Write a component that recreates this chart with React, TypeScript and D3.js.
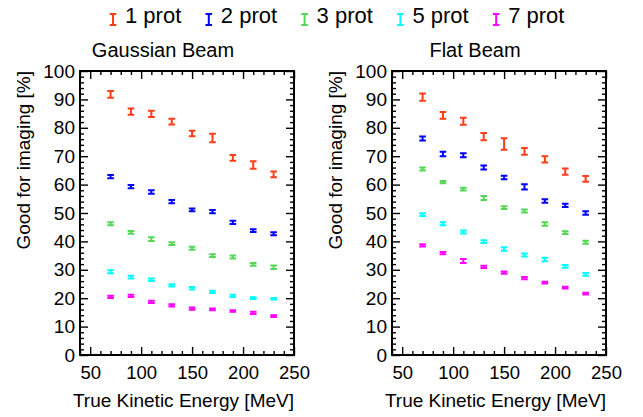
import React, { Component } from 'react';
import * as d3 from 'd3';

const energies = [70, 90, 110, 130, 150, 170, 190, 210, 230];
const seriesLabels = ['1 prot', '2 prot', '3 prot', '5 prot', '7 prot'];
const seriesColors = ['#ff3d17', '#0000ff', '#55d655', '#00ffff', '#ff00ff'];
const panelTitles = ['Gaussian Beam', 'Flat Beam'];
const xTicks = [50, 100, 150, 200, 250];
const yTicks = [0, 10, 20, 30, 40, 50, 60, 70, 80, 90, 100];

// Gaussian beam
const gauss1 = [91.8, 85.7, 84.9, 82.2, 78.0, 76.4, 69.4, 66.9, 63.6];
const gauss2 = [62.8, 59.3, 57.4, 54.0, 51.1, 50.5, 46.7, 43.8, 42.7];
const gauss3 = [46.2, 43.2, 40.8, 39.2, 37.6, 35.0, 34.5, 31.9, 30.9];
const gauss5 = [29.3, 27.4, 26.5, 24.5, 23.5, 22.2, 20.8, 20.0, 19.8];
const gauss7 = [20.5, 20.8, 18.7, 17.5, 16.3, 16.1, 15.5, 14.8, 13.7];
const gaussErr1 = [1.2, 1.1, 1.1, 1.0, 1.0, 1.5, 1.0, 1.3, 1.0];
const gaussErr2 = [0.6, 0.6, 0.6, 0.6, 0.5, 0.6, 0.6, 0.5, 0.5];
const gaussErr3 = [0.5, 0.5, 0.7, 0.5, 0.5, 0.5, 0.5, 0.5, 0.6];
const gaussErr5 = [0.5, 0.5, 0.4, 0.4, 0.4, 0.4, 0.4, 0.3, 0.3];
const gaussErr7 = [0.4, 0.4, 0.4, 0.4, 0.4, 0.3, 0.3, 0.4, 0.3];

// Flat beam
const flat1 = [90.8, 84.4, 82.3, 76.9, 74.3, 71.7, 68.9, 64.6, 62.0];
const flat2 = [76.2, 70.8, 70.3, 66.0, 62.5, 59.2, 54.2, 52.7, 50.0];
const flat3 = [65.5, 60.9, 58.4, 55.3, 51.9, 50.7, 46.1, 43.1, 39.7];
const flat5 = [49.4, 46.2, 43.3, 39.9, 37.3, 35.2, 33.6, 31.2, 28.4];
const flat7 = [38.6, 35.9, 33.1, 31.0, 29.0, 27.1, 25.5, 23.7, 21.6];
const flatErr1 = [1.3, 1.2, 1.2, 1.3, 2.0, 1.2, 1.1, 1.1, 1.0];
const flatErr2 = [0.7, 0.8, 0.7, 0.7, 0.6, 0.9, 0.6, 0.6, 0.6];
const flatErr3 = [0.5, 0.4, 0.5, 0.7, 0.5, 0.5, 0.6, 0.5, 0.5];
const flatErr5 = [0.5, 0.5, 0.5, 0.5, 0.6, 0.5, 0.6, 0.5, 0.5];
const flatErr7 = [0.4, 0.4, 0.7, 0.4, 0.4, 0.4, 0.3, 0.3, 0.3];

const panelValues = [
  [gauss1, gauss2, gauss3, gauss5, gauss7],
  [flat1, flat2, flat3, flat5, flat7],
];
const panelErrors = [
  [gaussErr1, gaussErr2, gaussErr3, gaussErr5, gaussErr7],
  [flatErr1, flatErr2, flatErr3, flatErr5, flatErr7],
];

const FONT = '"Liberation Sans", Arial, Helvetica, sans-serif';

class App extends Component {
  node: SVGSVGElement | null = null;

  componentDidMount() {
    this.createChart();
  }

  createChart() {
    const width = 643;
    const height = 417;
    const panelLefts = [80, 392];
    const frameW = 214;
    const top = 71;
    const bottom = 355;
    const capW = 3.3;

    const svg = d3.select(this.node);
    svg.selectAll('*').remove();
    svg.attr('width', width).attr('height', height);

    // legend
    const legend = svg.append('g');
    seriesLabels.forEach((label, i) => {
      const lx = 113 + i * 95.8;
      const g = legend.append('g').attr('transform', `translate(${lx},19.5)`);
      g.append('path')
        .attr('d', `M0,-5.5V5.5M${-capW},-5.5H${capW}M${-capW},5.5H${capW}`)
        .attr('stroke', seriesColors[i])
        .attr('stroke-width', 2)
        .attr('fill', 'none');
      g.append('text')
        .attr('x', 12)
        .attr('y', 3.5)
        .attr('font-family', FONT)
        .attr('font-size', 22)
        .text(label);
    });

    panelLefts.forEach((left, p) => {
      const x = d3.scaleLinear().domain([40, 250]).range([left, left + frameW]);
      const y = d3.scaleLinear().domain([0, 100]).range([bottom, top]);
      const g = svg.append('g');

      g.append('text')
        .attr('x', left + 83)
        .attr('y', 57)
        .attr('text-anchor', 'middle')
        .attr('font-family', FONT)
        .attr('font-size', 20)
        .text(panelTitles[p]);

      const minorX = d3.range(40, 251, 10).filter((v) => v % 50 !== 0);
      const minorY = d3.range(0, 101, 2).filter((v) => v % 10 !== 0);

      const addAxis = (axis: any, tx: number, ty: number, size: number) => {
        const a = g.append('g')
          .attr('transform', `translate(${tx},${ty})`)
          .call(axis);
        a.select('.domain').remove();
        a.selectAll('line').attr('stroke', '#000').attr('stroke-width', 1.4);
        if (size > 0) {
          a.selectAll('text')
            .attr('font-family', FONT)
            .attr('font-size', size)
            .attr('fill', '#000');
        } else {
          a.selectAll('text').remove();
        }
      };

      addAxis(d3.axisBottom(x).tickValues(xTicks).tickSize(-8).tickPadding(11).tickFormat(d3.format('d')), 0, bottom, 18.5);
      addAxis(d3.axisBottom(x).tickValues(minorX).tickSize(-4), 0, bottom, 0);
      addAxis(d3.axisTop(x).tickValues(xTicks).tickSize(-8), 0, top, 0);
      addAxis(d3.axisTop(x).tickValues(minorX).tickSize(-4), 0, top, 0);
      addAxis(d3.axisLeft(y).tickValues(yTicks).tickSize(-8).tickPadding(5).tickFormat(d3.format('d')), left, 0, 19);
      addAxis(d3.axisLeft(y).tickValues(minorY).tickSize(-4), left, 0, 0);
      addAxis(d3.axisRight(y).tickValues(yTicks).tickSize(-8), left + frameW, 0, 0);
      addAxis(d3.axisRight(y).tickValues(minorY).tickSize(-4), left + frameW, 0, 0);

      g.append('rect')
        .attr('x', left)
        .attr('y', top)
        .attr('width', frameW)
        .attr('height', bottom - top)
        .attr('fill', 'none')
        .attr('stroke', '#000')
        .attr('stroke-width', 2);

      // axis titles
      g.append('text')
        .attr('x', left + frameW)
        .attr('y', 407)
        .attr('text-anchor', 'end')
        .attr('font-family', FONT)
        .attr('font-size', 19)
        .text('True Kinetic Energy [MeV]');

      g.append('text')
        .attr('transform', `translate(${left - 50},${top}) rotate(-90)`)
        .attr('text-anchor', 'end')
        .attr('font-family', FONT)
        .attr('font-size', 19)
        .text('Good for imaging [%]');

      // error bar markers
      panelValues[p].forEach((vals, s) => {
        const errs = panelErrors[p][s];
        g.append('g')
          .selectAll('path')
          .data(vals.map((v, i) => ({ e: energies[i], v, err: errs[i] })))
          .enter()
          .append('path')
          .attr('d', (d) => {
            const cx = x(d.e);
            const y0 = y(d.v - d.err);
            const y1 = y(d.v + d.err);
            return `M${cx},${y0}V${y1}M${cx - capW},${y0}H${cx + capW}M${cx - capW},${y1}H${cx + capW}`;
          })
          .attr('stroke', seriesColors[s])
          .attr('stroke-width', 2)
          .attr('fill', 'none');
      });
    });
  }

  render() {
    return (
      <svg
        ref={(node) => { this.node = node; }}
        style={{ position: 'absolute', left: 0, top: 0, background: '#fff' }}
      />
    );
  }
}

export default App;
